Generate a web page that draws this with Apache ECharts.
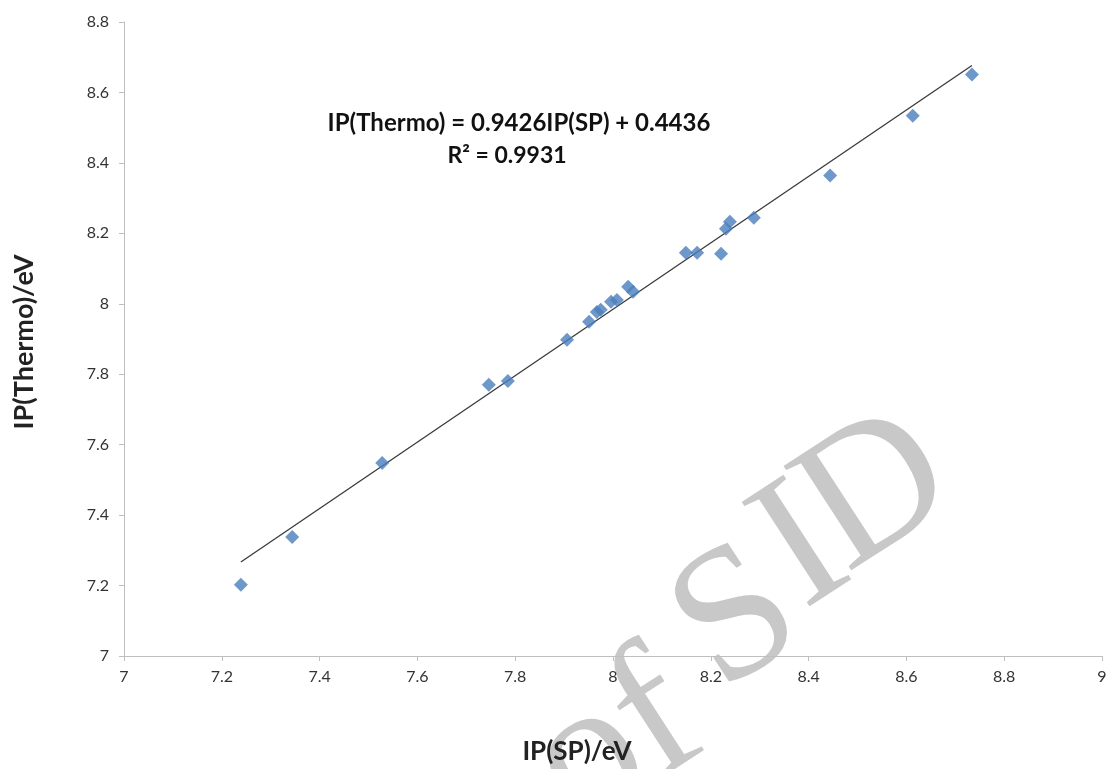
<!DOCTYPE html>
<html>
<head>
<meta charset="utf-8">
<script src="https://cdn.jsdelivr.net/npm/echarts@6/dist/echarts.min.js"></script>
<style>
html,body{margin:0;padding:0;background:#fff;}
#c{width:1107px;height:769px;}
</style>
</head>
<body>
<div id="c"></div>
<script>
// IP(SP) values (x) and IP(Thermo) values (y)
var ipSP = [7.239, 7.344, 7.528, 7.746, 7.785, 7.906, 7.951, 7.967, 7.975, 7.996, 8.008, 8.031, 8.041, 8.149, 8.172, 8.221, 8.231, 8.239, 8.288, 8.444, 8.613, 8.734];
var ipThermo = [7.202, 7.338, 7.548, 7.770, 7.781, 7.898, 7.949, 7.977, 7.983, 8.006, 8.011, 8.048, 8.034, 8.145, 8.145, 8.142, 8.213, 8.233, 8.244, 8.364, 8.534, 8.651];
// trendline coefficients as printed on the chart
var slope = 0.9426;
var intercept = 0.4436;
var equationText = 'IP(Thermo) = 0.9426IP(SP) + 0.4436';
var r2Text = 'R² = 0.9931';
var xAxisTitle = 'IP(SP)/eV';
var yAxisTitle = 'IP(Thermo)/eV';
// background watermark letters ("of SID")
var watermarkLetters = ['o', 'f', 'S', 'I', 'D'];

var points = ipSP.map(function (x, i) { return [x, ipThermo[i]]; });
var xMin = Math.min.apply(null, ipSP), xMax = Math.max.apply(null, ipSP);
var trend = [[xMin, slope * xMin + intercept], [xMax, slope * xMax + intercept]];

var FONT = 'Lato';
var ROT = 33 * Math.PI / 180;
var WM_FONT = '190px "Liberation Serif"';
var wmPos = [[590, 760], [657, 721], [738, 622], [803, 551], [877, 494]];
var wm = watermarkLetters.map(function (ch, i) {
  return {type: 'text', z: -10, silent: true, x: wmPos[i][0], y: wmPos[i][1], rotation: ROT,
    style: {text: ch, fill: '#c8c8c8', font: WM_FONT, align: 'center', verticalAlign: 'middle'}};
});
var chart = echarts.init(document.getElementById('c'), null, {renderer: 'canvas'});
chart.setOption({
  animation: false,
  backgroundColor: '#ffffff',
  grid: {left: 124, right: 5, top: 22, bottom: 113, containLabel: false, outerBoundsMode: 'none'},
  xAxis: {
    type: 'value', min: 7, max: 9, interval: 0.2,
    axisLine: {show: true, lineStyle: {color: '#bfbfbf', width: 1}},
    axisTick: {show: true, inside: false, length: 5, lineStyle: {color: '#bfbfbf'}},
    splitLine: {show: false},
    axisLabel: {color: '#333333', fontSize: 16, fontFamily: FONT, margin: 13}
  },
  yAxis: {
    type: 'value', min: 7, max: 8.8, interval: 0.2,
    axisLine: {show: true, lineStyle: {color: '#bfbfbf', width: 1}},
    axisTick: {show: true, inside: false, length: 5, lineStyle: {color: '#bfbfbf'}},
    splitLine: {show: false},
    axisLabel: {color: '#333333', fontSize: 16, fontFamily: FONT, margin: 15}
  },
  graphic: wm.concat([
    {type: 'text', z: 10, x: 519, y: 123,
     style: {text: equationText, fill: '#111', font: 'bold 24px Lato', align: 'center', verticalAlign: 'middle'}},
    {type: 'text', z: 10, x: 507, y: 156,
     style: {text: r2Text, fill: '#111', font: 'bold 23px Lato', align: 'center', verticalAlign: 'middle'}},
    {type: 'text', z: 10, x: 577, y: 752,
     style: {text: xAxisTitle, fill: '#222', font: 'bold 26px Lato', align: 'center', verticalAlign: 'middle'}},
    {type: 'text', z: 10, x: 24, y: 342, rotation: Math.PI / 2,
     style: {text: yAxisTitle, fill: '#222', font: 'bold 27px Lato', align: 'center', verticalAlign: 'middle'}}
  ]),
  series: [
    {type: 'line', data: trend, symbol: 'none', z: 3,
     lineStyle: {color: '#3a3a3a', width: 1.3}},
    {type: 'scatter', data: points, symbol: 'diamond', symbolSize: [14, 14], z: 4,
     itemStyle: {color: '#4a7ebb'}}
  ]
});
</script>
</body>
</html>
